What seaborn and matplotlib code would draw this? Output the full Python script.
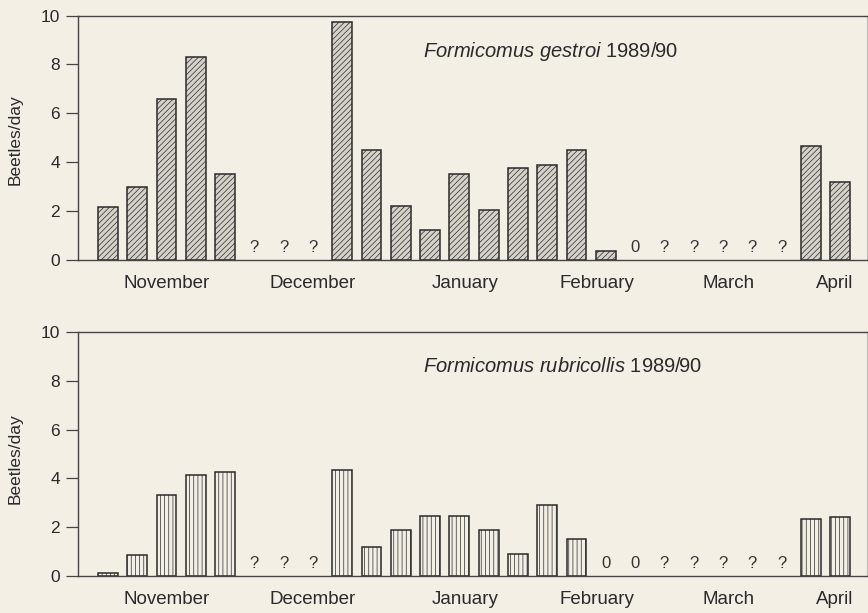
import numpy as np
import pandas as pd
import matplotlib
matplotlib.use("Agg")
import matplotlib.pyplot as plt
import seaborn as sns

# weekly sampling slots (26 per season); NaN = no bar drawn
slots = list(range(26))
gestroi = [2.15, 3.0, 6.6, 8.3, 3.5, np.nan, np.nan, np.nan, 9.75, 4.5,
           2.2, 1.2, 3.5, 2.05, 3.75, 3.9, 4.5, 0.35, np.nan, np.nan,
           np.nan, np.nan, np.nan, np.nan, 4.65, 3.2]
rubricollis = [0.12, 0.85, 3.3, 4.15, 4.25, np.nan, np.nan, np.nan, 4.35, 1.2,
               1.9, 2.45, 2.45, 1.9, 0.9, 2.9, 1.5, np.nan, np.nan, np.nan,
               np.nan, np.nan, np.nan, np.nan, 2.35, 2.4]

# marks written on the axis where there is no bar
gestroi_marks = {5: "?", 6: "?", 7: "?", 18: "0", 19: "?", 20: "?",
                 21: "?", 22: "?", 23: "?"}
rubricollis_marks = {5: "?", 6: "?", 7: "?", 17: "0", 18: "0", 19: "?",
                     20: "?", 21: "?", 22: "?", 23: "?"}

months = ["November", "December", "January", "February", "March", "April"]
month_pos = [2.0, 7.0, 12.2, 16.7, 21.2, 24.8]
yticks = [0, 2, 4, 6, 8, 10]

bg = "#f4efe5"
ink = "#2a2a2a"

sns.set_style("ticks")
plt.rcParams["font.family"] = ["Liberation Sans", "DejaVu Sans"]
plt.rcParams["mathtext.fontset"] = "custom"
plt.rcParams["mathtext.it"] = "Liberation Sans:italic"
plt.rcParams["mathtext.rm"] = "Liberation Sans"
plt.rcParams["hatch.linewidth"] = 0.5
plt.rcParams["hatch.color"] = "#555555"

fig = plt.figure(figsize=(8.68, 6.13), dpi=100, facecolor=bg)
ax_top = fig.add_axes([0.0899, 0.5763, 0.909, 0.3981])
ax_bot = fig.add_axes([0.0899, 0.0604, 0.909, 0.3981])

panels = [
    (ax_top, gestroi, gestroi_marks, "#d6d2ca", "//////",
     r"$\it{Formicomus\ gestroi}$ 1989/90", 0.83),
    (ax_bot, rubricollis, rubricollis_marks, bg, "||||",
     r"$\it{Formicomus\ rubricollis}$ 1989/90", 0.836),
]

for ax, vals, marks, fill, hatch, label, ty in panels:
    ax.set_facecolor(bg)
    df = pd.DataFrame({"slot": slots, "value": vals}).dropna()
    sns.barplot(data=df, x="slot", y="value", order=slots, ax=ax,
                color=fill, width=0.68, edgecolor=ink, linewidth=1.1,
                errorbar=None, saturation=1)
    for p in ax.patches:
        p.set_hatch(hatch)
        p.set_facecolor(fill)

    for s, m in marks.items():
        ax.text(s, 0.2, m, ha="center", va="bottom", fontsize=12,
                color="#333333")

    ax.set_xlim(-1.02, 25.92)
    ax.set_ylim(0, 10)
    ax.set_yticks(yticks)
    ax.set_yticklabels([str(t) for t in yticks], fontsize=12.5, color=ink)
    ax.set_xticks(month_pos)
    ax.set_xticklabels(months, fontsize=13.5, color=ink)
    ax.tick_params(axis="x", length=0, pad=11)
    ax.tick_params(axis="y", length=9, width=0.9, color="#444444",
                   direction="out", pad=4)
    ax.set_xlabel("")
    ax.set_ylabel("")
    for side in ["left", "top", "bottom"]:
        ax.spines[side].set_color("#444444")
        ax.spines[side].set_linewidth(1.0)
    ax.spines["right"].set_color("#bbbbbb")
    ax.spines["right"].set_linewidth(0.8)

    ax.text(0.437, ty, label, transform=ax.transAxes, fontsize=14.5,
            color=ink, ha="left", va="baseline")

fig.text(0.018, 0.772, "Beetles/day", rotation=90, ha="center", va="center",
         fontsize=12.5, color=ink)
fig.text(0.018, 0.252, "Beetles/day", rotation=90, ha="center", va="center",
         fontsize=12.5, color=ink)

fig.savefig("out.png", dpi=100, facecolor=bg)
plt.close(fig)
